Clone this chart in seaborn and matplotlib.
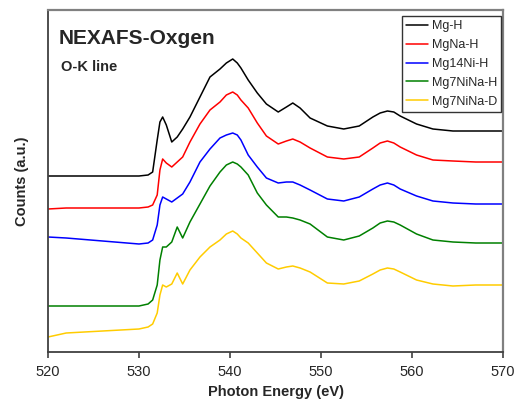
import pandas as pd
import matplotlib
matplotlib.use("Agg")
import matplotlib.pyplot as plt
import seaborn as sns

# energy grid (eV) shared by all spectra
energy = [520, 522, 526, 530, 531, 531.5, 532, 532.3, 532.6, 533, 533.6, 534.2,
          534.8, 535.6, 536.7, 537.8, 538.9, 539.6, 540.3, 540.8, 541.2, 542,
          543, 544, 545.3, 546.2, 546.9, 547.7, 548.8, 550.7, 552.5, 554.2,
          555.7, 556.5, 557.3, 558.0, 558.7, 560.5, 562.3, 564.5, 567, 570]

# stacked counts (a.u.)
mg_h = [176, 176, 176, 176, 177, 180, 212, 230, 235, 227, 210, 215, 223, 235,
        255, 275, 283, 289, 293, 289, 284, 272, 259, 248, 240, 245, 249, 244,
        234, 226, 223, 226, 235, 239, 241, 240, 236, 228, 223, 221, 221, 221]
mgna_h = [143, 144, 144, 144, 145, 147, 157, 182, 193, 189, 185, 190, 195, 210,
          228, 242, 250, 257, 260, 257, 252, 244, 229, 216, 208, 211, 213, 210,
          204, 195, 193, 195, 204, 209, 211, 209, 205, 197, 192, 191, 190, 190]
mg14ni_h = [115, 114, 111, 108, 109, 112, 127, 147, 155, 153, 150, 154, 158, 170,
            190, 203, 214, 217, 219, 217, 212, 197, 185, 174, 169, 170, 170, 167,
            162, 153, 151, 155, 163, 167, 169, 167, 163, 156, 151, 149, 148, 148]
mg7nina_h = [46, 46, 46, 46, 48, 52, 67, 92, 105, 105, 110, 125, 114, 130,
             148, 166, 180, 187, 190, 188, 185, 177, 159, 147, 135, 135, 134, 132,
             128, 115, 112, 116, 124, 129, 131, 130, 127, 118, 112, 110, 109, 109]
mg7nina_d = [15, 19, 21, 23, 25, 28, 39, 57, 67, 65, 68, 79, 68, 82,
             95, 105, 112, 118, 121, 118, 114, 109, 99, 89, 83, 85, 86, 84,
             80, 69, 68, 71, 78, 82, 84, 83, 80, 72, 68, 66, 67, 67]

samples = ["Mg-H", "MgNa-H", "Mg14Ni-H", "Mg7NiNa-H", "Mg7NiNa-D"]
series = [mg_h, mgna_h, mg14ni_h, mg7nina_h, mg7nina_d]
colors = ["#000000", "#ff0000", "#0000ff", "#008000", "#ffcc00"]
x_ticks = [520, 530, 540, 550, 560, 570]

df = pd.concat([pd.DataFrame({"energy": energy, "counts": s, "sample": n})
                for n, s in zip(samples, series)], ignore_index=True)

sns.set_style("white")
plt.rcParams["font.family"] = ["Liberation Sans", "DejaVu Sans"]

fig = plt.figure(figsize=(5.18, 4.0), dpi=100)
ax = fig.add_axes([48 / 518, 48 / 400, 455 / 518, 342 / 400])

sns.lineplot(data=df, x="energy", y="counts", hue="sample", hue_order=samples,
             palette=dict(zip(samples, colors)), linewidth=1.1, ax=ax,
             estimator=None, sort=False)

ax.set_xlim(520, 570)
ax.set_ylim(0, 342)
ax.set_xticks(x_ticks)
ax.set_yticks([])
ax.tick_params(axis="x", direction="out", length=4, width=1.2, color="#404040",
               labelsize=10.5, pad=5, bottom=True)
ax.set_xlabel("Photon Energy (eV)", fontsize=10.5, fontweight="bold", labelpad=5)
ax.set_ylabel("Counts (a.u.)", fontsize=10.5, fontweight="bold", labelpad=14)

for side in ["left", "bottom"]:
    ax.spines[side].set_color("#404040")
    ax.spines[side].set_linewidth(1.3)
for side in ["top", "right"]:
    ax.spines[side].set_color("#808080")
    ax.spines[side].set_linewidth(1.6)

ax.text(0.024, 0.918, "NEXAFS-Oxgen", transform=ax.transAxes, fontsize=15,
        fontweight="bold", va="center", ha="left")
ax.text(0.029, 0.833, "O-K line", transform=ax.transAxes, fontsize=10.5,
        fontweight="bold", va="center", ha="left")

handles, labels = ax.get_legend_handles_labels()
leg = ax.legend(handles, labels, loc="upper right", bbox_to_anchor=(0.996, 0.983),
                borderaxespad=0, fontsize=9, frameon=True, fancybox=False,
                edgecolor="black", handlelength=1.75, handletextpad=0.3,
                labelspacing=0.55, borderpad=0.35)
leg.get_frame().set_linewidth(1.0)

fig.savefig("out.png", dpi=100)
